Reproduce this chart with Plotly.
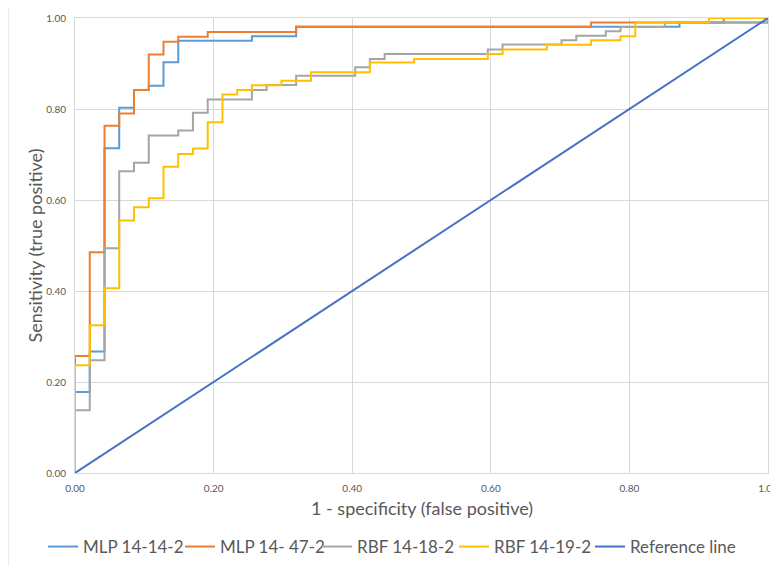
import plotly.graph_objects as go

# ---- data ----
series_names = ["MLP 14-14-2", "MLP 14- 47-2", "RBF 14-18-2", "RBF 14-19-2"]

mlp_14_14_fpr = [0.0, 0.0, 0.0213, 0.0426, 0.0638, 0.0851, 0.1064, 0.1277, 0.149, 0.2553, 0.3191, 0.8723, 1.0]
mlp_14_14_tpr = [0.0, 0.178, 0.267, 0.714, 0.803, 0.842, 0.851, 0.903, 0.950, 0.960, 0.981, 0.990, 1.0]

mlp_14_47_fpr = [0.0, 0.0, 0.0213, 0.0426, 0.0638, 0.0851, 0.1064, 0.1277, 0.149, 0.1915, 0.3191, 0.7447, 0.9362, 1.0]
mlp_14_47_tpr = [0.0, 0.257, 0.485, 0.763, 0.790, 0.842, 0.920, 0.948, 0.959, 0.969, 0.981, 0.990, 1.0, 1.0]

rbf_14_18_fpr = [0.0, 0.0, 0.0213, 0.0426, 0.0638, 0.0851, 0.1064, 0.149, 0.1702, 0.1915, 0.2553, 0.2766,
                 0.3191, 0.4043, 0.4255, 0.4468, 0.5957, 0.617, 0.7021, 0.7234, 0.766, 0.7872, 0.8511, 1.0]
rbf_14_18_tpr = [0.0, 0.138, 0.248, 0.494, 0.663, 0.682, 0.742, 0.753, 0.792, 0.821, 0.842, 0.853,
                 0.873, 0.892, 0.910, 0.921, 0.931, 0.942, 0.951, 0.961, 0.971, 0.980, 0.990, 1.0]

rbf_14_19_fpr = [0.0, 0.0, 0.0213, 0.0426, 0.0638, 0.0851, 0.1064, 0.1277, 0.149, 0.1702, 0.1915, 0.2128,
                 0.234, 0.2553, 0.2979, 0.3404, 0.4255, 0.4894, 0.5957, 0.617, 0.6809, 0.7447, 0.7872,
                 0.8085, 0.9149, 1.0]
rbf_14_19_tpr = [0.0, 0.237, 0.325, 0.406, 0.555, 0.584, 0.604, 0.673, 0.701, 0.713, 0.771, 0.832,
                 0.842, 0.852, 0.862, 0.881, 0.902, 0.910, 0.921, 0.931, 0.941, 0.951, 0.960,
                 0.990, 1.0, 1.0]

ref_x = [0.0, 1.0]
ref_y = [0.0, 1.0]

tick_vals = [0.0, 0.2, 0.4, 0.6, 0.8, 1.0]

colors = ["#5B9BD5", "#ED7D31", "#A5A5A5", "#FFC000"]
ref_color = "#4472C4"

FONT = "Lato, Carlito, Calibri, 'Liberation Sans', sans-serif"
TXT = "#595959"
GRID = "#D9D9D9"

# the page body has an 8px margin, so the figure is 8px smaller than the window
W, H = 770, 558

fig = go.Figure()
for name, xs, ys, c in zip(series_names,
                           [mlp_14_14_fpr, mlp_14_47_fpr, rbf_14_18_fpr, rbf_14_19_fpr],
                           [mlp_14_14_tpr, mlp_14_47_tpr, rbf_14_18_tpr, rbf_14_19_tpr],
                           colors):
    fig.add_trace(go.Scatter(x=xs, y=ys, mode="lines", name=name, legend="legend",
                             line=dict(color=c, width=2, shape="hv")))
fig.add_trace(go.Scatter(x=ref_x, y=ref_y, mode="lines", name="Reference line", legend="legend2",
                         line=dict(color=ref_color, width=2)))

axis_common = dict(range=[0, 1], tickvals=tick_vals, tickformat=".2f", showgrid=True,
                   gridcolor=GRID, gridwidth=1, zeroline=False, showline=True, mirror=True,
                   linecolor=GRID, linewidth=1, ticks="", automargin=False,
                   ticklabeloverflow="allow",
                   tickfont=dict(family=FONT, size=10, color=TXT))

legend_common = dict(orientation="h", xref="container", yref="container",
                     xanchor="left", y=1 - 539 / H, yanchor="middle",
                     font=dict(family=FONT, size=17, color=TXT),
                     itemwidth=30, tracegroupgap=0, bgcolor="rgba(0,0,0,0)")

fig.update_layout(
    width=W, height=H,
    margin=dict(l=67, r=10, t=10, b=93),
    paper_bgcolor="white", plot_bgcolor="white",
    font=dict(family=FONT, color=TXT),
    xaxis=dict(**axis_common, ticklabelstandoff=6),
    yaxis=dict(**axis_common, ticklabelstandoff=6),
    showlegend=True,
    legend=dict(**legend_common, x=35 / W, entrywidth=92, entrywidthmode="pixels"),
    legend2=dict(**legend_common, x=582 / W),
    annotations=[
        dict(text="1 - specificity (false positive)", xref="paper", yref="paper",
             x=0.5, y=-35 / 455, xanchor="center", yanchor="middle", showarrow=False,
             font=dict(family=FONT, size=18, color=TXT)),
        dict(text="Sensitivity (true positive)", xref="paper", yref="paper",
             x=-41 / 693, y=0.5, xanchor="center", yanchor="middle", showarrow=False,
             textangle=-90, font=dict(family=FONT, size=18, color=TXT)),
    ],
    shapes=[dict(type="line", xref="paper", yref="paper", x0=-67 / 693, x1=-67 / 693,
                 y0=-93 / 455, y1=1 + 10 / 455, line=dict(color=GRID, width=1))],
)

fig.write_html("out.html")
